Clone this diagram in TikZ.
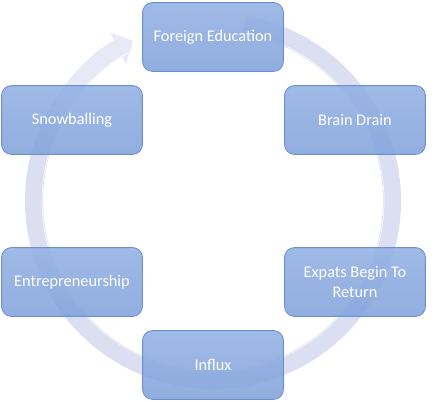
\documentclass[tikz,border=0pt]{standalone}
\usepackage{fontspec}
\setmainfont{Carlito}
\usepackage{tikz}
\usetikzlibrary{arrows.meta}
\definecolor{boxtop}{HTML}{92B0E2}
\definecolor{boxmid}{HTML}{7498D6}
\definecolor{boxbot}{HTML}{82A3DC}
\definecolor{boxedge}{HTML}{6A90D2}
\definecolor{ring}{HTML}{DCDEF2}
\definecolor{ringtip}{HTML}{E8E9F6}
\tikzset{
  stage/.style={rectangle, rounded corners=7, minimum width=3.52cm, minimum height=1.72cm,
    top color=boxtop, middle color=boxmid, bottom color=boxbot, draw=boxedge, line width=0.6pt,
    fill opacity=0.88, text opacity=1, text=white, font=\fontsize{11.6}{13.8}\selectfont, align=center},
  cycle/.style={draw=ring, line width=0.45cm},
  cyclehead/.style={draw=ringtip, line width=0.45cm, -{Triangle[length=0.42cm, width=0.85cm]}}
}

\begin{document}
\begin{tikzpicture}[x=0.025cm, y=0.025cm]
  \useasboundingbox (0,0) rectangle (443,402);
  \coordinate (hub) at (213,201);

  % the cycle arrow, behind the boxes
  \draw[cycle] ([shift={(80:179)}]hub) arc[start angle=80, end angle=-210, radius=179];
  \draw[cyclehead] ([shift={(-210.5:179)}]hub) arc[start angle=-210.5, end angle=-243.5, radius=179];
  \draw[white, line width=0.5pt, opacity=0.8] ([shift={(80:171)}]hub) arc[start angle=80, end angle=-240, radius=171];

  % stages, clockwise from the top
  \node[stage] (edu) at (213,365) {Foreign Education};
  \node[stage] (drain) at (355,282) {Brain Drain};
  \node[stage] (back) at (355,120) {Expats Begin To\\Return};
  \node[stage] (influx) at (213,37) {Influx};
  \node[stage] (entre) at (72,120) {Entrepreneurship};
  \node[stage] (snow) at (72,282) {Snowballing};
\end{tikzpicture}
\end{document}
